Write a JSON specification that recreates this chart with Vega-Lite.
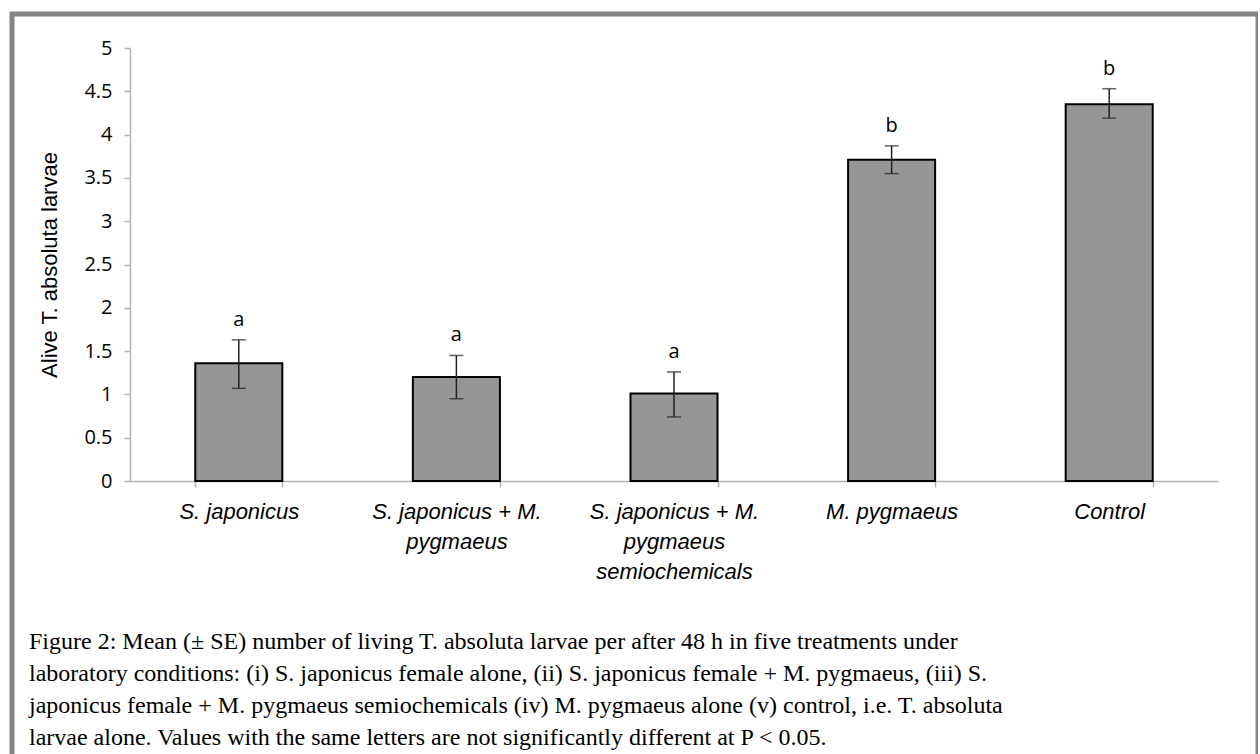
{
  "$schema": "https://vega.github.io/schema/vega-lite/v6.json",
  "autosize": "none",
  "padding": {"left": 12, "top": 14, "right": 0, "bottom": 0},
  "width": 1246,
  "height": 752,
  "background": "white",
  "config": {
    "view": {"stroke": "#858585", "strokeWidth": 5},
    "axis": {"grid": false}
  },
  "title": {
    "text": [
      "Figure 2: Mean (± SE) number of living T. absoluta larvae per after 48 h in five treatments under",
      "laboratory conditions: (i) S. japonicus female alone, (ii) S. japonicus female + M. pygmaeus, (iii) S.",
      "japonicus female + M. pygmaeus semiochemicals (iv) M. pygmaeus alone (v) control, i.e. T. absoluta",
      "larvae alone. Values with the same letters are not significantly different at P < 0.05."
    ],
    "orient": "bottom",
    "anchor": "start",
    "font": "Liberation Serif",
    "fontSize": 24,
    "fontWeight": "normal",
    "lineHeight": 32,
    "color": "black",
    "offset": -136,
    "dx": 17
  },
  "data": {
    "values": [
      {"treatment": "S. japonicus", "mean": 1.36, "lo": 1.07, "hi": 1.63, "letter": "a"},
      {"treatment": "S. japonicus + M.|pygmaeus", "mean": 1.2, "lo": 0.95, "hi": 1.45, "letter": "a"},
      {"treatment": "S. japonicus + M.|pygmaeus|semiochemicals", "mean": 1.01, "lo": 0.74, "hi": 1.26, "letter": "a"},
      {"treatment": "M. pygmaeus", "mean": 3.71, "lo": 3.55, "hi": 3.87, "letter": "b"},
      {"treatment": "Control", "mean": 4.35, "lo": 4.19, "hi": 4.53, "letter": "b"}
    ]
  },
  "encoding": {
    "x": {
      "field": "treatment",
      "type": "nominal",
      "sort": null,
      "scale": {"range": [118, 1206], "paddingInner": 0.6, "paddingOuter": 0.3},
      "axis": {
        "title": null,
        "offset": -285,
        "labelAngle": 0,
        "labelExpr": "split(datum.label, '|')",
        "labelFont": "Liberation Sans",
        "labelFontStyle": "italic",
        "labelFontSize": 22,
        "labelColor": "black",
        "labelLineHeight": 30,
        "labelPadding": 14,
        "labelBaseline": "top",
        "tickBand": "extent",
        "tickSize": 6,
        "tickColor": "#b3b3b3",
        "domainColor": "#b3b3b3",
        "domainWidth": 1.5,
        "tickWidth": 1.5
      }
    }
  },
  "layer": [
    {
      "mark": {"type": "bar", "fill": "#969696", "stroke": "black", "strokeWidth": 2},
      "encoding": {
        "y": {
          "field": "mean",
          "type": "quantitative",
          "scale": {"domain": [0, 5], "range": [467, 34], "nice": false},
          "axis": {
            "title": "Alive T. absoluta larvae",
            "titleFont": "Liberation Sans",
            "titleFontSize": 22,
            "titleFontWeight": "normal",
            "titleColor": "black",
            "titlePadding": 22,
            "offset": -118,
            "values": [0, 0.5, 1, 1.5, 2, 2.5, 3, 3.5, 4, 4.5, 5],
            "format": "~g",
            "labelFont": "Open Sans",
            "labelFontSize": 20,
            "labelColor": "black",
            "labelPadding": 12,
            "tickSize": 6,
            "tickColor": "#b3b3b3",
            "domainColor": "#b3b3b3",
            "domainWidth": 1.5,
            "tickWidth": 1.5
          }
        }
      }
    },
    {
      "mark": {"type": "rule", "color": "#222222", "strokeWidth": 1.5},
      "encoding": {
        "y": {"field": "lo", "type": "quantitative"},
        "y2": {"field": "hi"}
      }
    },
    {
      "mark": {"type": "tick", "color": "#222222", "thickness": 1.5, "size": 14, "orient": "horizontal"},
      "encoding": {"y": {"field": "lo", "type": "quantitative"}}
    },
    {
      "mark": {"type": "tick", "color": "#222222", "thickness": 1.5, "size": 14, "orient": "horizontal"},
      "encoding": {"y": {"field": "hi", "type": "quantitative"}}
    },
    {
      "mark": {"type": "text", "font": "Open Sans", "fontSize": 20, "color": "black", "baseline": "alphabetic", "dy": -14},
      "encoding": {
        "y": {"field": "hi", "type": "quantitative"},
        "text": {"field": "letter"}
      }
    }
  ]
}
